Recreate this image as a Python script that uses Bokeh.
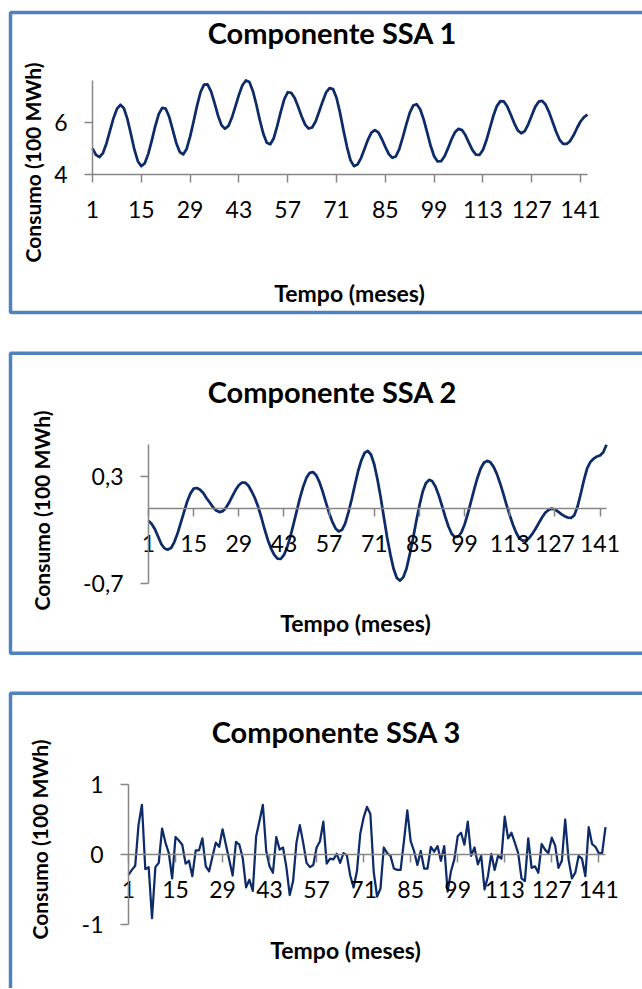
import math
from bokeh.plotting import figure
from bokeh.layouts import column
from bokeh.models import (Range1d, FixedTicker, Label, CustomJSTickFormatter,
                          ColumnDataSource, BoxAnnotation)
from bokeh.embed import file_html
from bokeh.resources import INLINE

# ---------------- data ----------------
months = list(range(1, 144))
x_ticks = [1, 15, 29, 43, 57, 71, 85, 99, 113, 127, 141]

titles = ["Componente SSA 1", "Componente SSA 2", "Componente SSA 3"]
y_title = "Consumo (100 MWh)"
x_title = "Tempo (meses)"

y_ticks1 = [4, 6]
y_ticks2 = [-0.7, 0.3]
y_ticks3 = [-1, 0, 1]

ssa1 = [
    5.00, 4.75, 4.67, 4.82, 5.19, 5.67, 6.15, 6.51, 6.67, 6.54,
    6.13, 5.56, 4.96, 4.51, 4.32, 4.43, 4.79, 5.30, 5.85, 6.31,
    6.55, 6.52, 6.21, 5.72, 5.22, 4.87, 4.77, 4.98, 5.45, 6.03,
    6.64, 7.16, 7.44, 7.45, 7.18, 6.74, 6.26, 5.89, 5.75, 5.86,
    6.18, 6.61, 7.05, 7.42, 7.60, 7.54, 7.20, 6.68, 6.08, 5.56,
    5.22, 5.16, 5.39, 5.86, 6.40, 6.88, 7.15, 7.13, 6.93, 6.59,
    6.22, 5.91, 5.76, 5.80, 6.03, 6.40, 6.79, 7.14, 7.31, 7.27,
    6.94, 6.37, 5.69, 5.06, 4.55, 4.32, 4.38, 4.62, 4.97, 5.33,
    5.60, 5.70, 5.61, 5.36, 5.06, 4.78, 4.64, 4.69, 4.97, 5.42,
    5.91, 6.36, 6.64, 6.69, 6.50, 6.11, 5.61, 5.10, 4.70, 4.50,
    4.51, 4.70, 5.01, 5.35, 5.62, 5.75, 5.70, 5.50, 5.21, 4.93,
    4.76, 4.75, 4.94, 5.31, 5.78, 6.25, 6.62, 6.81, 6.80, 6.60,
    6.29, 5.96, 5.69, 5.58, 5.66, 5.92, 6.26, 6.59, 6.79, 6.82,
    6.67, 6.38, 6.01, 5.64, 5.33, 5.17, 5.17, 5.28, 5.50, 5.78,
    6.03, 6.20, 6.29,
]

ssa2 = [
    -0.11, -0.14, -0.19, -0.26, -0.33, -0.37, -0.38, -0.365, -0.31, -0.23,
    -0.13, -0.03, 0.07, 0.145, 0.19, 0.196, 0.18, 0.15, 0.10, 0.06,
    0.016, -0.015, -0.029, -0.021, 0.011, 0.06, 0.12, 0.177, 0.222, 0.247,
    0.246, 0.217, 0.163, 0.10, 0.02, -0.08, -0.19, -0.29, -0.37, -0.43,
    -0.465, -0.468, -0.43, -0.358, -0.256, -0.137, -0.014, 0.108, 0.211, 0.293,
    0.338, 0.345, 0.315, 0.251, 0.163, 0.062, -0.038, -0.121, -0.182, -0.21,
    -0.195, -0.135, -0.029, 0.091, 0.227, 0.355, 0.456, 0.524, 0.543, 0.507,
    0.416, 0.276, 0.106, -0.083, -0.27, -0.427, -0.561, -0.646, -0.67, -0.638,
    -0.557, -0.425, -0.279, -0.118, 0.032, 0.16, 0.24, 0.272, 0.258, 0.207,
    0.127, 0.03, -0.073, -0.164, -0.232, -0.264, -0.26, -0.22, -0.145, -0.045,
    0.07, 0.185, 0.292, 0.378, 0.432, 0.45, 0.436, 0.394, 0.328, 0.241,
    0.143, 0.039, -0.059, -0.148, -0.223, -0.276, -0.297, -0.293, -0.272, -0.233,
    -0.185, -0.132, -0.08, -0.036, -0.009, 0.003, -0.005, -0.025, -0.048, -0.068,
    -0.08, -0.083, -0.06, 0.02, 0.14, 0.27, 0.38, 0.44, 0.47, 0.49,
    0.50, 0.53, 0.60,
]

ssa3 = [
    -0.29, -0.22, -0.16, 0.43, 0.71, -0.21, -0.18, -0.91, -0.18, -0.12,
    0.37, 0.17, 0.02, -0.34, 0.25, 0.20, 0.14, -0.13, -0.09, -0.31,
    0.06, 0.06, 0.23, -0.17, -0.24, -0.03, 0.17, 0.11, 0.36, 0.14,
    -0.08, -0.30, 0.18, 0.14, -0.05, -0.47, -0.36, -0.52, 0.26, 0.48,
    0.71, 0.05, -0.17, -0.26, 0.25, 0.07, 0.10, -0.18, -0.58, -0.38,
    0.17, 0.42, 0.17, -0.12, -0.18, -0.15, 0.10, 0.19, 0.47, -0.13,
    -0.06, -0.07, 0.01, -0.12, 0.02, -0.01, -0.30, -0.47, -0.24, 0.30,
    0.53, 0.68, 0.58, -0.25, -0.60, -0.49, 0.10, 0.02, -0.02, -0.20,
    -0.22, -0.22, 0.19, 0.63, 0.19, 0.05, -0.15, 0.05, -0.20, -0.20,
    0.11, 0.04, 0.12, -0.09, 0.12, -0.53, -0.24, -0.07, 0.26, 0.31,
    0.14, 0.47, -0.02, 0.10, -0.14, -0.02, -0.50, -0.31, 0.01, -0.22,
    -0.02, -0.06, 0.54, 0.23, 0.31, 0.17, 0.02, -0.34, -0.38, 0.23,
    -0.19, -0.17, -0.26, 0.15, 0.07, 0.02, 0.24, 0.13, -0.19, -0.09,
    0.50, -0.07, -0.34, -0.26, -0.02, -0.06, -0.31, 0.39, 0.15, 0.11,
    0.02, 0.02, 0.39,
]

# ---------------- style ----------------
FONT = "Lato"
LINE = "#0D2B68"
AXIS = "#868686"
BORDER = "#4F81BD"
W = 642


def panel(values, y_lim, y_ticks, fmt, top, height, plot_box, x_axis_at,
          border, title, title_pos, ylab_pos, xlab_pos, lw):
    """plot_box = (left, right, top, bottom) of the plotting area in page pixels."""
    L, R, T, B = plot_box
    x0, x1 = 1, 143
    y0, y1 = y_lim
    sx = (R - L) / (x1 - x0)
    sy = (B - T) / (y1 - y0)
    fx = lambda px: x0 + (px - L) / sx
    fy = lambda py: y0 + (B - py) / sy

    p = figure(width=W, height=height,
               x_range=Range1d(fx(0), fx(W)), y_range=Range1d(fy(top + height), fy(top)),
               output_backend="svg", toolbar_location=None, min_border=0)
    p.min_border_left = p.min_border_right = p.min_border_top = p.min_border_bottom = 0
    p.title.visible = False
    p.xgrid.visible = False
    p.ygrid.visible = False
    p.outline_line_color = None
    p.background_fill_color = "white"
    p.border_fill_color = "white"

    xa, ya = p.xaxis[0], p.yaxis[0]
    xa.ticker = FixedTicker(ticks=x_ticks)
    ya.ticker = FixedTicker(ticks=y_ticks)
    ya.formatter = CustomJSTickFormatter(code=fmt)
    xa.fixed_location = x_axis_at
    ya.fixed_location = x0
    xa.bounds = (x0, x1)
    ya.bounds = (y0, y1)
    for ax in (xa, ya):
        ax.axis_line_color = AXIS
        ax.axis_line_width = 1.5
        ax.major_tick_line_color = AXIS
        ax.major_tick_line_width = 1.5
        ax.major_tick_in = 0
        ax.major_tick_out = 8
        ax.minor_tick_line_color = None
        ax.major_label_text_font = FONT
        ax.major_label_text_font_size = "23px"
        ax.major_label_text_color = "black"
    xa.major_label_standoff = 18
    ya.major_label_standoff = 17

    # chart-area border (right edge off the page, as in the original)
    bl, bt, bb = border
    p.add_layout(BoxAnnotation(left=fx(bl), right=fx(W + 20), top=fy(bt), bottom=fy(bb),
                               fill_alpha=0, line_color=BORDER, line_alpha=1.0,
                               line_width=3.5, level="underlay"))

    src = ColumnDataSource(dict(month=months, v=values))
    p.line("month", "v", source=src, line_color=LINE, line_width=lw, line_join="round")

    def lab(pos, text, size, angle=0.0):
        p.add_layout(Label(x=fx(pos[0]), y=fy(pos[1]), text=text,
                           text_align="center", text_baseline="middle",
                           text_font=FONT, text_font_style="bold",
                           text_font_size=size, text_color="black", angle=angle))

    lab(title_pos, title, "29px")
    lab(ylab_pos, y_title, "21px", math.pi / 2)
    lab(xlab_pos, x_title, "23px")
    return p


p1 = panel(ssa1, (4, 7.6), y_ticks1, "return tick.toFixed(0);", 0, 333,
           (92, 587, 80, 174), 4, (10, 12, 312),
           titles[0], (332, 32), (31.5, 162), (349, 292), 2.75)
p2 = panel(ssa2, (-0.7, 0.6), y_ticks2, "return tick.toFixed(1).replace('.', ',');", 333, 339,
           (148, 606, 444.3, 583.3), 0, (10, 352.7, 652.7),
           titles[1], (332, 390.5), (41, 510), (355, 622), 2.75)
p3 = panel(ssa3, (-1, 1), y_ticks3, "return tick.toFixed(0);", 672, 316,
           (128, 605, 784, 924), 0, (10, 692.7, 1100),
           titles[2], (336, 730.5), (39, 839), (345, 949.5), 2.25)

layout = column(p1, p2, p3, spacing=0)
open("out.html", "w").write(file_html(layout, INLINE))
